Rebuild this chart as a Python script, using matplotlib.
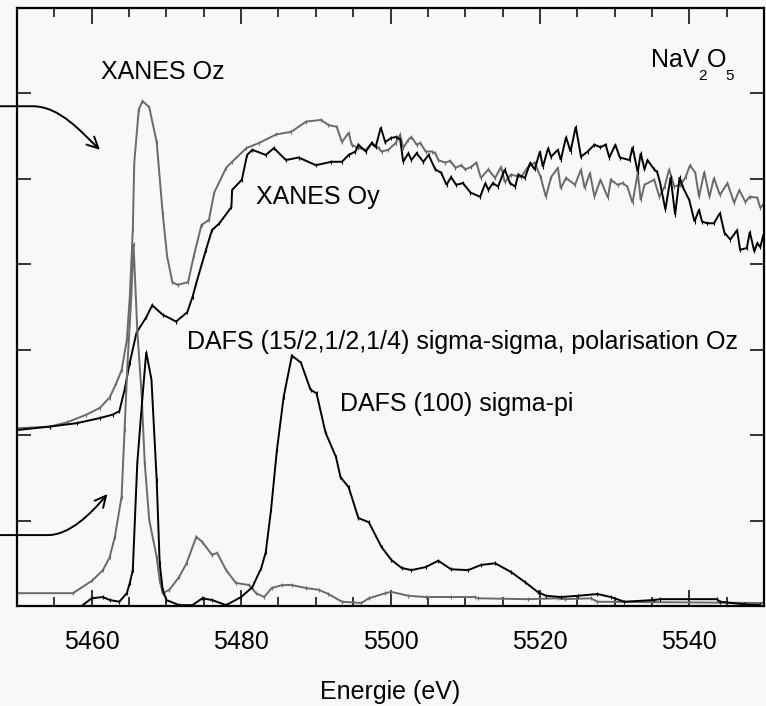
import matplotlib
matplotlib.use("Agg")
import matplotlib.pyplot as plt
from matplotlib.patches import FancyArrowPatch
from matplotlib.path import Path
from matplotlib.ticker import MultipleLocator

plt.rcParams['font.family'] = ['Liberation Sans', 'DejaVu Sans']

# ---------------- data (energy in eV, intensity in arbitrary offset units) -------------
oz_energy = [5450.0, 5454.4, 5456.7, 5459.3, 5461.1, 5462.4, 5463.3, 5464.0, 5464.7, 5465.1,
             5465.5, 5465.7, 5466.3, 5466.8, 5467.7, 5468.7, 5469.5, 5470.1, 5470.8, 5471.5,
             5472.9, 5473.7, 5474.7, 5475.7, 5476.4, 5478.0, 5478.8, 5480.7, 5482.4, 5484.7,
             5486.7, 5488.7, 5490.7, 5491.7, 5492.8, 5493.5, 5494.4, 5494.8, 5495.7, 5496.7,
             5497.5, 5498.4, 5498.8, 5499.7, 5500.7, 5501.3, 5501.7, 5502.4, 5502.8, 5503.5,
             5504.0, 5504.7, 5505.5, 5506.0, 5506.4, 5507.3, 5508.0, 5508.7, 5509.5, 5510.0,
             5510.8, 5511.5, 5512.1, 5513.1, 5514.0, 5514.8, 5515.3, 5516.1, 5517.5, 5518.4,
             5519.3, 5520.1, 5520.8, 5521.5, 5522.4, 5522.8, 5523.5, 5524.7, 5525.5, 5526.0,
             5526.7, 5527.3, 5528.1, 5529.1, 5529.5, 5530.4, 5531.1, 5531.7, 5532.4, 5533.1,
             5533.5, 5534.0, 5535.3, 5536.0, 5536.7, 5537.3, 5538.0, 5538.8, 5539.5, 5540.1,
             5540.8, 5541.3, 5542.0, 5542.7, 5543.3, 5544.1, 5545.1, 5546.0, 5546.7, 5547.5,
             5548.1, 5549.1, 5549.5, 5549.9]
oz_signal = [2.08, 2.10, 2.15, 2.24, 2.32, 2.44, 2.61, 2.76, 3.11, 3.62,
             4.40, 5.19, 5.81, 5.91, 5.84, 5.43, 4.60, 4.09, 3.79, 3.76,
             3.79, 4.11, 4.46, 4.52, 4.84, 5.13, 5.20, 5.36, 5.42, 5.52,
             5.55, 5.67, 5.69, 5.63, 5.61, 5.43, 5.54, 5.40, 5.36, 5.34,
             5.42, 5.36, 5.32, 5.34, 5.42, 5.52, 5.36, 5.46, 5.49, 5.40,
             5.42, 5.32, 5.32, 5.30, 5.22, 5.19, 5.21, 5.13, 5.16, 5.11,
             5.14, 5.19, 5.01, 5.11, 5.01, 5.14, 4.96, 5.05, 5.02, 5.14,
             5.19, 5.02, 4.79, 5.02, 5.13, 4.89, 5.01, 4.93, 5.11, 4.89,
             5.07, 4.79, 4.99, 4.78, 4.99, 4.93, 4.95, 4.91, 4.72, 5.07,
             4.75, 4.93, 4.99, 4.79, 4.91, 5.11, 4.91, 4.93, 5.02, 5.16,
             5.07, 4.79, 5.08, 4.79, 5.01, 4.81, 4.95, 4.72, 4.87, 4.73,
             4.79, 4.78, 4.66, 4.70]

oy_energy = [5450.0, 5454.4, 5458.0, 5461.1, 5462.8, 5463.7, 5464.4, 5465.1, 5466.0, 5467.3,
             5468.1, 5469.5, 5471.3, 5472.8, 5473.5, 5474.0, 5475.3, 5476.1, 5477.1, 5478.7,
             5478.8, 5480.1, 5480.8, 5481.5, 5483.3, 5484.4, 5486.0, 5487.7, 5490.0, 5492.1,
             5493.5, 5494.4, 5495.3, 5495.7, 5496.7, 5497.5, 5498.0, 5498.7, 5499.3, 5500.1,
             5500.8, 5501.3, 5501.7, 5502.4, 5502.8, 5503.5, 5504.4, 5505.1, 5506.0, 5506.8,
             5507.5, 5508.1, 5508.8, 5509.7, 5510.7, 5512.0, 5512.7, 5513.1, 5513.7, 5514.4,
             5515.3, 5516.0, 5516.7, 5517.1, 5518.0, 5518.7, 5519.3, 5520.0, 5520.4, 5521.1,
             5521.5, 5522.4, 5522.8, 5523.5, 5524.1, 5524.8, 5525.5, 5526.4, 5527.3, 5528.1,
             5528.8, 5529.3, 5530.1, 5530.7, 5532.0, 5532.4, 5533.1, 5533.5, 5534.0, 5534.4,
             5535.3, 5535.7, 5536.1, 5536.8, 5537.5, 5538.1, 5538.7, 5539.1, 5540.0, 5540.7,
             5541.3, 5541.7, 5542.4, 5543.3, 5544.1, 5544.7, 5545.5, 5546.4, 5546.8, 5547.7,
             5548.1, 5548.7, 5549.1, 5549.5, 5549.9]
oy_signal = [2.06, 2.10, 2.14, 2.20, 2.24, 2.28, 2.53, 2.85, 3.20, 3.38,
             3.52, 3.41, 3.33, 3.44, 3.62, 3.78, 4.17, 4.40, 4.48, 4.67,
             4.87, 4.99, 5.28, 5.34, 5.28, 5.36, 5.22, 5.25, 5.16, 5.20,
             5.20, 5.28, 5.32, 5.40, 5.32, 5.42, 5.37, 5.60, 5.43, 5.48,
             5.49, 5.46, 5.20, 5.30, 5.22, 5.30, 5.20, 5.28, 5.11, 5.07,
             4.93, 5.02, 4.93, 4.95, 4.84, 4.79, 4.95, 4.87, 4.95, 4.91,
             5.11, 4.95, 4.91, 5.05, 5.01, 5.19, 5.11, 5.32, 5.14, 5.36,
             5.26, 5.34, 5.22, 5.49, 5.32, 5.61, 5.26, 5.32, 5.40, 5.37,
             5.40, 5.25, 5.40, 5.25, 5.22, 5.37, 5.08, 5.30, 5.11, 5.22,
             5.11, 5.08, 4.95, 4.64, 5.02, 4.58, 5.02, 4.91, 4.75, 4.50,
             4.64, 4.50, 4.48, 4.48, 4.60, 4.37, 4.29, 4.40, 4.17, 4.19,
             4.38, 4.15, 4.25, 4.20, 4.34]

ss_energy = [5450.0, 5457.5, 5460.1, 5461.5, 5462.4, 5463.1, 5464.0, 5464.4, 5464.8, 5465.3,
             5465.6, 5466.1, 5466.7, 5467.1, 5467.7, 5468.7, 5469.1, 5469.5, 5470.4, 5471.7,
             5472.7, 5474.0, 5474.8, 5476.1, 5476.8, 5478.0, 5479.3, 5481.1, 5482.0, 5483.1,
             5484.1, 5485.5, 5486.8, 5488.7, 5490.4, 5491.7, 5493.5, 5496.1, 5497.1, 5499.3,
             5500.1, 5502.4, 5504.7, 5508.1, 5511.3, 5511.7, 5518.4, 5522.4, 5523.3, 5526.8,
             5527.7, 5549.9]
ss_signal = [0.15, 0.15, 0.30, 0.42, 0.57, 0.81, 1.28, 2.06, 2.85, 3.62,
             4.24, 3.23, 2.45, 1.67, 1.01, 0.57, 0.30, 0.15, 0.19, 0.34,
             0.50, 0.81, 0.75, 0.60, 0.62, 0.42, 0.27, 0.245, 0.15, 0.105,
             0.21, 0.245, 0.245, 0.21, 0.19, 0.14, 0.05, 0.035, 0.09, 0.15,
             0.165, 0.12, 0.105, 0.105, 0.105, 0.09, 0.08, 0.09, 0.08, 0.09,
             0.05, 0.035]

sp_energy = [5458.8, 5460.0, 5461.5, 5462.4, 5463.7, 5464.7, 5465.1, 5465.5, 5466.1, 5466.8,
             5467.3, 5468.0, 5468.7, 5469.1, 5469.5, 5470.0, 5471.7, 5473.5, 5474.8, 5476.1,
             5478.0, 5480.0, 5481.5, 5482.7, 5483.3, 5484.0, 5484.8, 5485.7, 5486.8, 5488.0,
             5489.3, 5490.1, 5491.3, 5492.7, 5493.3, 5494.4, 5495.7, 5497.1, 5498.8, 5500.1,
             5501.5, 5502.8, 5504.7, 5506.4, 5508.1, 5510.4, 5512.1, 5514.0, 5516.1, 5518.0,
             5519.7, 5520.8, 5522.8, 5525.1, 5527.7, 5529.5, 5531.3, 5535.3, 5536.1, 5543.7,
             5544.1, 5547.3, 5549.5]
sp_signal = [0.01, 0.09, 0.105, 0.07, 0.05, 0.15, 0.27, 0.42, 1.67, 2.45,
             2.97, 2.65, 1.475, 0.50, 0.19, 0.07, 0.01, 0.01, 0.09, 0.07,
             0.01, 0.105, 0.22, 0.445, 0.63, 1.12, 1.83, 2.45, 2.93, 2.85,
             2.53, 2.49, 2.03, 1.745, 1.51, 1.39, 1.03, 0.98, 0.69, 0.54,
             0.445, 0.42, 0.455, 0.53, 0.43, 0.42, 0.48, 0.50, 0.40, 0.28,
             0.165, 0.12, 0.105, 0.12, 0.14, 0.105, 0.05, 0.07, 0.08, 0.08,
             0.05, 0.02, 0.01]

xtick_values = [5460, 5480, 5500, 5520, 5540]
xlabel_text = "Energie (eV)"

# ---------------- figure ----------------
BG = '#f8f8f8'
GRAY = '#6a6a6a'
fig = plt.figure(figsize=(7.66, 7.06), dpi=100, facecolor=BG)
ax = fig.add_axes([17/766, 1 - 606/706, (764 - 17)/766, (606 - 8)/706])
ax.set_facecolor(BG)

line_kw = dict(lw=1.4, marker='|', ms=3, mew=0.8, solid_joinstyle='miter')
ax.plot(oz_energy, oz_signal, color=GRAY, **line_kw)
ax.plot(oy_energy, oy_signal, color='black', **line_kw)
ax.plot(ss_energy, ss_signal, color=GRAY, **line_kw)
ax.plot(sp_energy, sp_signal, color='black', **line_kw)

ax.set_xlim(5450, 5550)
ax.set_ylim(0, 7)
ax.set_xticks(xtick_values)
ax.xaxis.set_minor_locator(MultipleLocator(5))
ax.yaxis.set_major_locator(MultipleLocator(1))
ax.set_yticklabels([])
ax.tick_params(axis='x', which='major', direction='in', top=True, bottom=True,
               length=11.5, width=1.1, labelsize=18, pad=17)
ax.tick_params(axis='x', which='minor', direction='in', top=True, bottom=True,
               length=6.5, width=1.1)
ax.tick_params(axis='y', which='major', direction='in', left=True, right=True,
               length=10, width=1.1, labelleft=False)
for s in ax.spines.values():
    s.set_linewidth(1.6)
ax.set_xlabel(xlabel_text, fontsize=18, labelpad=19)

# ---------------- annotations ----------------
ax.text(5461.3, 6.17, "XANES Oz", fontsize=18)
ax.text(5482.0, 4.71, "XANES Oy", fontsize=18)
ax.text(5472.7, 3.01, "DAFS (15/2,1/2,1/4) sigma-sigma, polarisation Oz", fontsize=18)
ax.text(5493.2, 2.28, "DAFS (100) sigma-pi", fontsize=18)
ax.text(5534.9, 6.31, "NaV", fontsize=18)
ax.text(5541.2, 6.16, "2", fontsize=11)
ax.text(5542.3, 6.31, "O", fontsize=18)
ax.text(5544.8, 6.16, "5", fontsize=11)

arrow_paths = [
    [(5447.7, 5.85), (5452.1, 5.85), (5455.7, 5.85), (5458.6, 5.55), (5461.1, 5.34)],
    [(5447.7, 0.83), (5454.1, 0.83), (5457.0, 0.83), (5459.8, 1.07), (5462.1, 1.31)],
]
codes = [Path.MOVETO, Path.LINETO, Path.CURVE4, Path.CURVE4, Path.CURVE4]
for verts in arrow_paths:
    p = FancyArrowPatch(path=Path(verts, codes), arrowstyle='->', mutation_scale=20,
                        lw=1.4, color='black', transform=ax.transData, clip_on=False)
    ax.add_patch(p)

fig.savefig("out.png", dpi=100, facecolor=BG)
